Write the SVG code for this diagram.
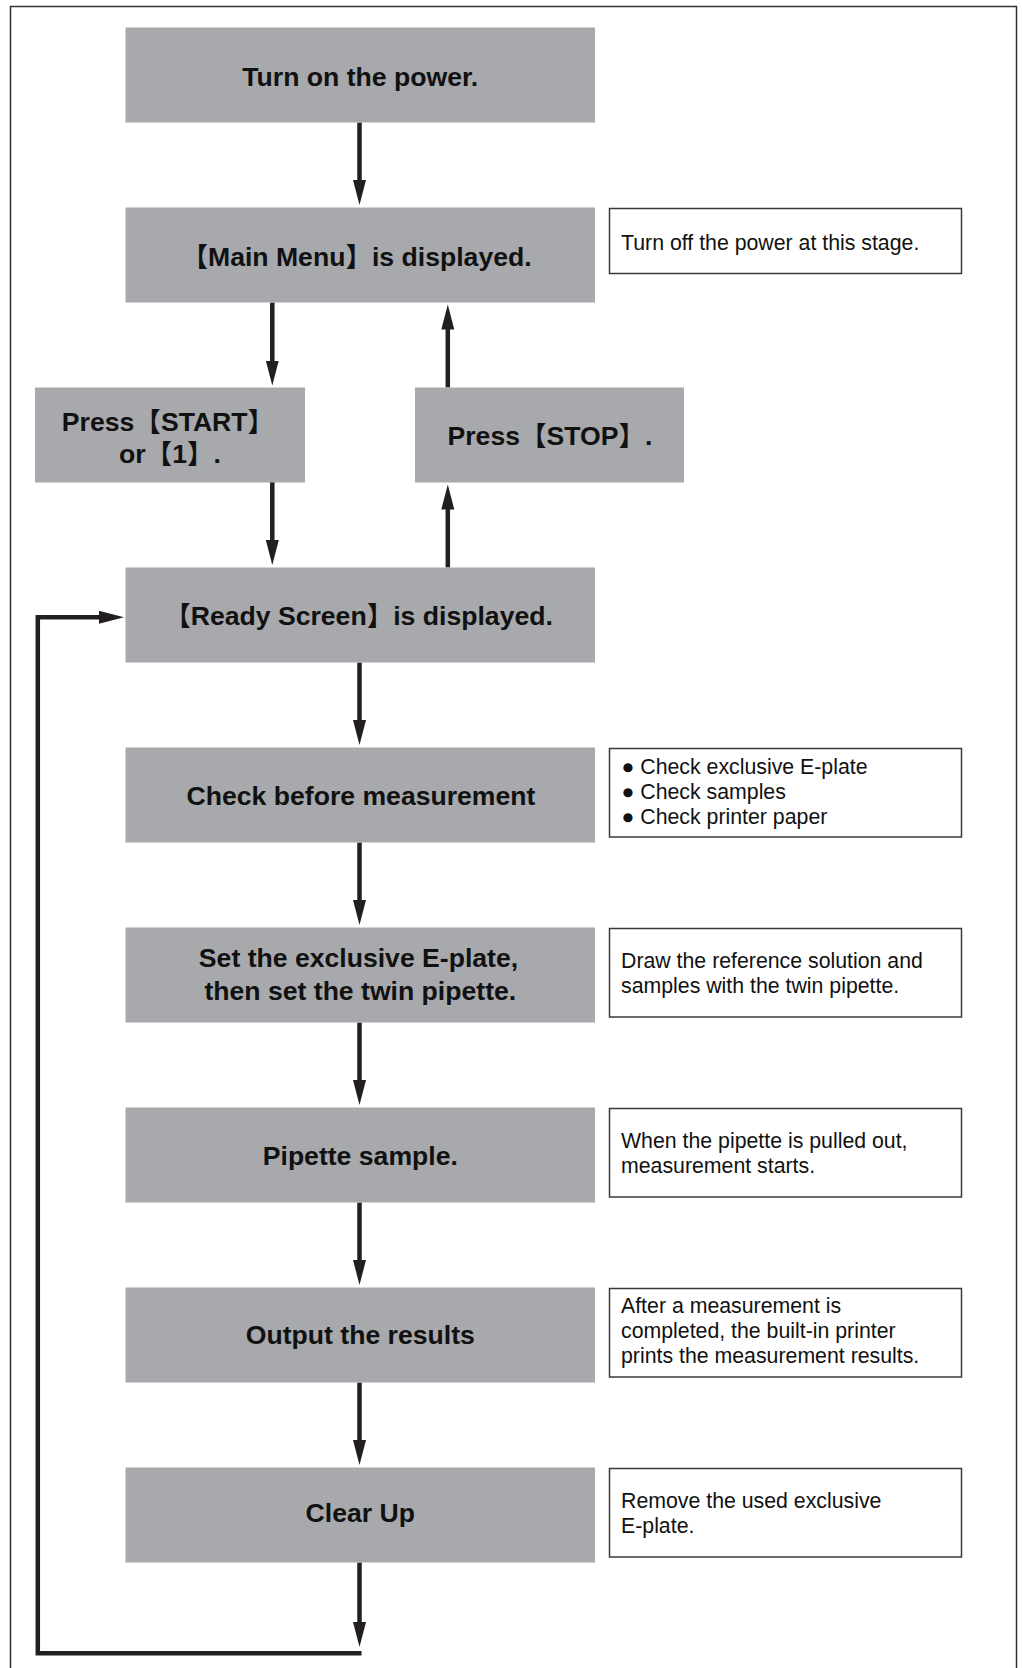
<svg xmlns="http://www.w3.org/2000/svg" width="1022" height="1668" viewBox="0 0 1022 1668">
<style>
.box{fill:#a7a9ac;}
.note{fill:#ffffff;stroke:#3a3a3a;stroke-width:1.5;}
.t{font-family:"Liberation Sans","Noto Sans CJK JP",sans-serif;font-weight:bold;font-size:26.6px;fill:#111;text-anchor:middle;}
.n{font-family:"Liberation Sans","Noto Sans CJK JP",sans-serif;font-size:21.3px;fill:#111;}
.c{fill:none;stroke:#231f20;stroke-width:4.5;}
</style>
<defs>
<marker id="ah" markerUnits="userSpaceOnUse" markerWidth="26" markerHeight="14" refX="2" refY="6.5" orient="auto">
<path d="M0,0 L25,6.5 L0,13 Z" fill="#231f20"/>
</marker>
</defs>
<rect x="10.5" y="6.5" width="1006" height="1670" fill="#fff" stroke="#333" stroke-width="1.5"/>

<g id="connectors">
<line class="c" x1="359.5" y1="122.5" x2="359.5" y2="182" marker-end="url(#ah)"/>
<line class="c" x1="272.3" y1="302.5" x2="272.3" y2="362.5" marker-end="url(#ah)"/>
<line class="c" x1="272.3" y1="482" x2="272.3" y2="542" marker-end="url(#ah)"/>
<line class="c" x1="447.8" y1="567.5" x2="447.8" y2="507.5" marker-end="url(#ah)"/>
<line class="c" x1="447.8" y1="387.5" x2="447.8" y2="327.5" marker-end="url(#ah)"/>
<line class="c" x1="359.5" y1="662.5" x2="359.5" y2="722" marker-end="url(#ah)"/>
<line class="c" x1="359.5" y1="842.5" x2="359.5" y2="902" marker-end="url(#ah)"/>
<line class="c" x1="359.5" y1="1022.5" x2="359.5" y2="1082" marker-end="url(#ah)"/>
<line class="c" x1="359.5" y1="1202.5" x2="359.5" y2="1262" marker-end="url(#ah)"/>
<line class="c" x1="359.5" y1="1382.5" x2="359.5" y2="1442" marker-end="url(#ah)"/>
<line class="c" x1="359.5" y1="1562.5" x2="359.5" y2="1624" marker-end="url(#ah)"/>
<path class="c" d="M361.5,1653.3 H37.8 V617.3 H101" marker-end="url(#ah)"/>
</g>

<g id="n1"><rect class="box" x="125.5" y="27.5" width="469.5" height="95"/><text class="t" x="360.3" y="86">Turn on the power.</text></g>
<g id="n2"><rect class="box" x="125.5" y="207.5" width="469.5" height="95"/><text class="t" x="356.5" y="265.7">【Main Menu】is displayed.</text></g>
<g id="note2"><rect class="note" x="609.5" y="208.5" width="352" height="65"/><text class="n" x="621" y="250">Turn off the power at this stage.</text></g>
<g id="n3"><rect class="box" x="35" y="387.5" width="270" height="95"/><text class="t" x="168" y="431">Press【START】</text><text class="t" x="170" y="462.5">or【1】.</text></g>
<g id="n4"><rect class="box" x="415" y="387.5" width="269" height="95"/><text class="t" x="550" y="445">Press【STOP】.</text></g>
<g id="n5"><rect class="box" x="125.5" y="567.5" width="469.5" height="95"/><text class="t" x="358.5" y="625">【Ready Screen】is displayed.</text></g>
<g id="n6"><rect class="box" x="125.5" y="747.5" width="469.5" height="95"/><text class="t" x="361" y="804.5">Check before measurement</text></g>
<g id="note6"><rect class="note" x="609.5" y="748.5" width="352" height="88.5"/><text class="n" x="621.5" y="774.3">● Check exclusive E-plate</text><text class="n" x="621.5" y="799.3">● Check samples</text><text class="n" x="621.5" y="824.3">● Check printer paper</text></g>
<g id="n7"><rect class="box" x="125.5" y="927.5" width="469.5" height="95"/><text class="t" x="358.5" y="967">Set the exclusive E-plate,</text><text class="t" x="360.3" y="1000">then set the twin pipette.</text></g>
<g id="note7"><rect class="note" x="609.5" y="928.5" width="352" height="88.5"/><text class="n" x="621" y="968.3">Draw the reference solution and</text><text class="n" x="621" y="993.3">samples with the twin pipette.</text></g>
<g id="n8"><rect class="box" x="125.5" y="1107.5" width="469.5" height="95"/><text class="t" x="360.3" y="1164.5">Pipette sample.</text></g>
<g id="note8"><rect class="note" x="609.5" y="1108.5" width="352" height="88.5"/><text class="n" x="621" y="1148.3">When the pipette is pulled out,</text><text class="n" x="621" y="1173.3">measurement starts.</text></g>
<g id="n9"><rect class="box" x="125.5" y="1287.5" width="469.5" height="95"/><text class="t" x="360.3" y="1343.5">Output the results</text></g>
<g id="note9"><rect class="note" x="609.5" y="1288.5" width="352" height="88.5"/><text class="n" x="621" y="1313.3">After a measurement is</text><text class="n" x="621" y="1338.3">completed, the built-in printer</text><text class="n" x="621" y="1363.3">prints the measurement results.</text></g>
<g id="n10"><rect class="box" x="125.5" y="1467.5" width="469.5" height="95"/><text class="t" x="360.3" y="1521.5">Clear Up</text></g>
<g id="note10"><rect class="note" x="609.5" y="1468.5" width="352" height="88.5"/><text class="n" x="621" y="1508.3">Remove the used exclusive</text><text class="n" x="621" y="1533.3">E-plate.</text></g>
</svg>
